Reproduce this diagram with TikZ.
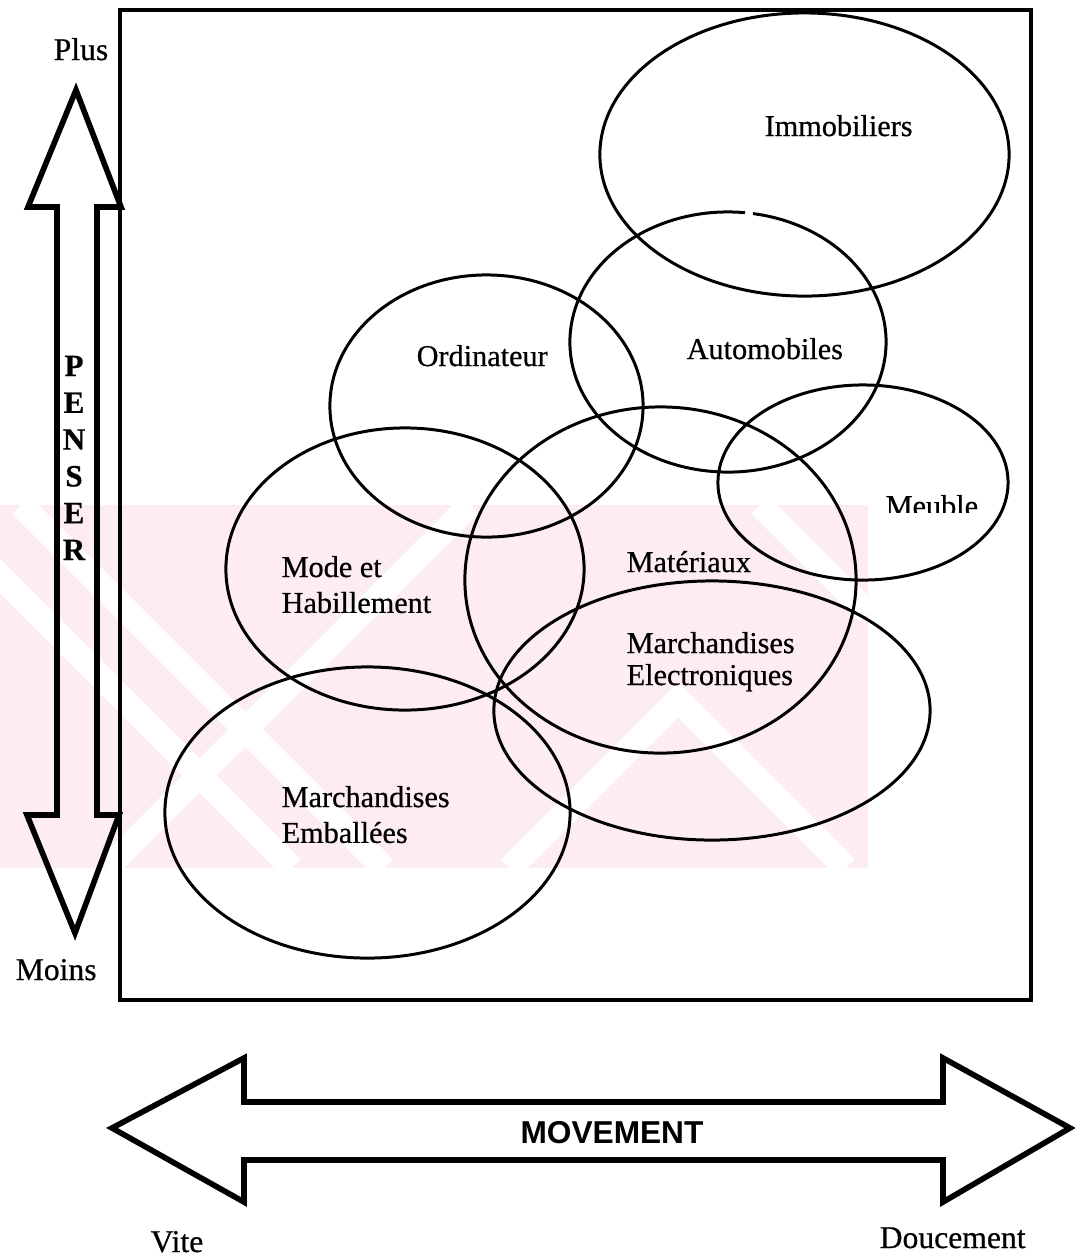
\documentclass[tikz,border=0pt]{standalone}
\usepackage{fontspec}
\setmainfont{Liberation Serif}[FakeBold=0.6]
\newfontfamily\headsans{Liberation Sans}
\definecolor{wmpink}{RGB}{253,237,241}
\begin{document}
\begin{tikzpicture}[x=0.01cm,y=-0.01cm,
  ring/.style={line width=0.85pt},
  blockarrow/.style={line width=1.6pt, line join=miter},
  frame/.style={line width=1.3pt},
  lbl/.style={anchor=base west, inner sep=0pt, font=\fontsize{8.6}{10.2}\selectfont},
  side/.style={anchor=base west, inner sep=0pt, font=\fontsize{9}{10.8}\selectfont},
  axisletter/.style={anchor=base, inner sep=0pt, font=\fontsize{8.8}{10}\selectfont\bfseries},
  stripe/.style={white, line width=7pt},
]
\useasboundingbox (0,0) rectangle (1075,1259);

% light background band with diagonal stripes
\begin{scope}
  \clip (0,505) rectangle (868,868);
  \fill[wmpink] (0,505) rectangle (868,868);
  \draw[stripe] (21,505) -- (384,868);
  \draw[stripe] (-71,505) -- (292,868);
  \draw[stripe] (470,505) -- (107,868);
  \draw[stripe] (510,868) -- (678,700) -- (846,868);
  \draw[stripe] (760,505) -- (868,613);
\end{scope}

% category ellipses
\draw[ring] (804.5,154.5) ellipse [x radius=2.045cm, y radius=1.415cm];
\draw[ring] ([shift={(83.8:1.58cm and 1.30cm)}]728,342)
  arc[start angle=83.8, end angle=440.9, x radius=1.58cm, y radius=1.30cm];
\draw[ring] (486.5,406) ellipse [x radius=1.565cm, y radius=1.31cm];
\draw[ring] (863,482.5) ellipse [x radius=1.45cm, y radius=0.975cm];
\draw[ring] (660.5,580) ellipse [x radius=1.955cm, y radius=1.73cm];
\draw[ring] (405,569) ellipse [x radius=1.79cm, y radius=1.41cm];
\draw[ring] (712,710.5) ellipse [x radius=2.18cm, y radius=1.295cm];
\draw[ring] (367.5,812.5) ellipse [x radius=2.025cm, y radius=1.455cm];

% frame
\draw[frame] (120,10) rectangle (1031,1000);

% vertical double arrow
\draw[blockarrow] (76,90) -- (121,207) -- (97,207) -- (97,815) -- (119,815)
  -- (75,933) -- (27,815) -- (57,815) -- (57,207) -- (28,207) -- cycle;

% horizontal double arrow
\draw[blockarrow] (112,1128) -- (244,1058) -- (244,1102) -- (943,1102)
  -- (943,1058) -- (1070,1128) -- (943,1202) -- (943,1160) -- (244,1160)
  -- (244,1202) -- cycle;

% labels
\node[lbl] (immo) at (764,136) {Immobiliers};
\node[lbl] (auto) at (686,359) {Automobiles};
\node[lbl] (ordi) at (416,366) {Ordinateur};
\begin{scope}
  \clip (870,480) rectangle (1000,512);
  \node[lbl] (meub) at (885,516) {Meuble};
\end{scope}
\node[lbl] (mate) at (626,572) {Matériaux};
\node[lbl] (elec) at (626,653) {\fontsize{8.6}{9.1}\selectfont
  \begin{tabular}[t]{@{}l@{}}Marchandises\\Electroniques\end{tabular}};
\node[lbl] (mode) at (281,577) {\begin{tabular}[t]{@{}l@{}}Mode et\\Habillement\end{tabular}};
\node[lbl] (emba) at (281,807) {\begin{tabular}[t]{@{}l@{}}Marchandises\\Emballées\end{tabular}};

% axis captions
\node[side] (plus) at (53,60) {Plus};
\node[side] (moins) at (15,980) {Moins};
\node[side] (vite) at (150,1252) {Vite};
\node[side] (douc) at (879,1248) {Doucement};
\node[anchor=base, inner sep=0pt, font=\headsans\fontsize{9}{10}\selectfont\bfseries]
  (move) at (612,1143) {MOVEMENT};

\foreach \ch [count=\i from 0] in {P,E,N,S,E,R}
  \node[axisletter] (pen\i) at (74,376+36.8*\i) {\ch};
\end{tikzpicture}
\end{document}
